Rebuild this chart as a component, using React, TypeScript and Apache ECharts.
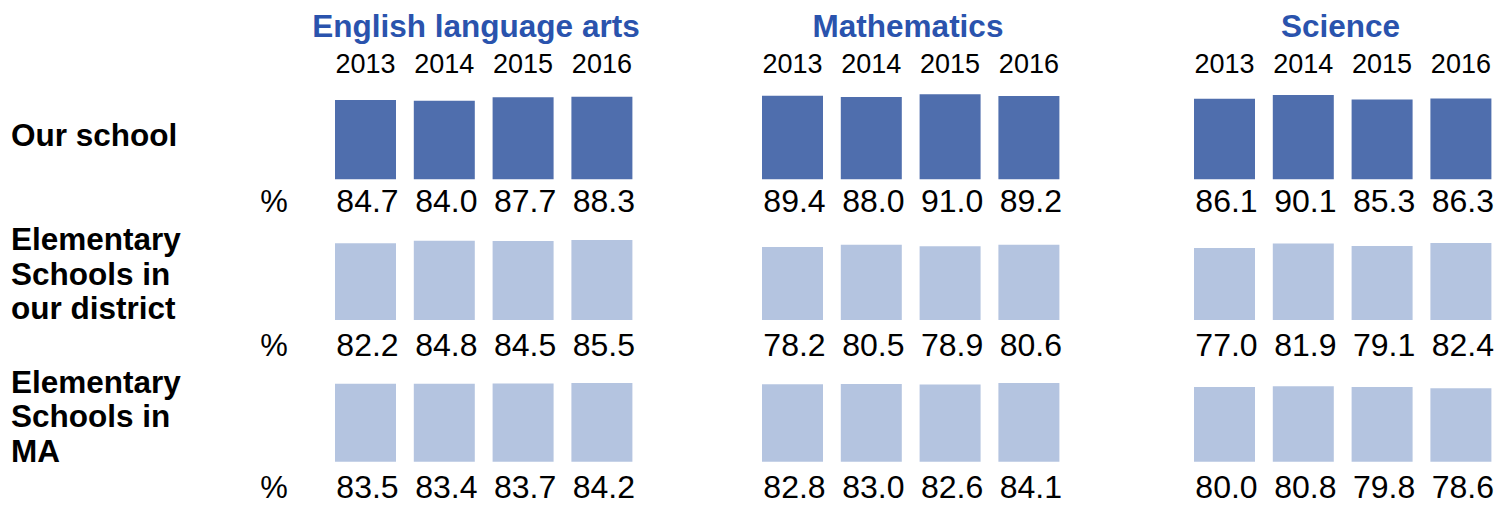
import React, { useEffect, useRef } from "react";
import * as echarts from "echarts";

const years = ["2013", "2014", "2015", "2016"];
const subjects = ["English language arts", "Mathematics", "Science"];
const groupLabels = [
  "Our school",
  "Elementary\nSchools in\nour district",
  "Elementary\nSchools in\nMA",
];

const elaSchool = [84.7, 84.0, 87.7, 88.3];
const elaDistrict = [82.2, 84.8, 84.5, 85.5];
const elaState = [83.5, 83.4, 83.7, 84.2];
const mathSchool = [89.4, 88.0, 91.0, 89.2];
const mathDistrict = [78.2, 80.5, 78.9, 80.6];
const mathState = [82.8, 83.0, 82.6, 84.1];
const sciSchool = [86.1, 90.1, 85.3, 86.3];
const sciDistrict = [77.0, 81.9, 79.1, 82.4];
const sciState = [80.0, 80.8, 79.8, 78.6];

const FONT = "'Liberation Sans', Arial, Helvetica, sans-serif";

export default function App() {
  const ref = useRef<HTMLDivElement>(null);
  useEffect(() => {
    document.body.style.margin = "0";
    const chart = echarts.init(ref.current!, undefined, { renderer: "svg" });
    const table = [
      [elaSchool, elaDistrict, elaState],
      [mathSchool, mathDistrict, mathState],
      [sciSchool, sciDistrict, sciState],
    ];
    const lefts = [326.1, 753.1, 1185.1];
    const bottoms = [179.3, 320, 461.7];
    const gridW = 315.2;
    const gridH = 93.5;
    const labelDist = [6, 9, 9];
    const grids: any[] = [];
    const xAxes: any[] = [];
    const yAxes: any[] = [];
    const series: any[] = [];
    let gi = 0;
    for (let s = 0; s < 3; s++) {
      for (let r = 0; r < 3; r++) {
        grids.push({
          left: lefts[s],
          top: bottoms[r] - gridH,
          width: gridW,
          height: gridH,
          containLabel: false,
        });
        xAxes.push({
          type: "category",
          gridIndex: gi,
          data: years,
          position: "top",
          show: r === 0,
          axisLine: { show: false },
          axisTick: { show: false },
          axisLabel: {
            show: r === 0,
            fontSize: 27,
            color: "#000",
            fontFamily: FONT,
            margin: 8,
            interval: 0,
          },
        });
        yAxes.push({
          type: "value",
          gridIndex: gi,
          min: 0,
          max: 100,
          show: false,
          splitLine: { show: false },
        });
        series.push({
          type: "bar",
          xAxisIndex: gi,
          yAxisIndex: gi,
          data: table[s][r],
          barWidth: 61,
          itemStyle: { color: r === 0 ? "#4F6EAD" : "#B4C4E0" },
          label: {
            show: true,
            position: "bottom",
            distance: labelDist[r],
            offset: [2, 0],
            fontSize: 32,
            color: "#000",
            fontFamily: FONT,
            formatter: (p: any) => Number(p.value).toFixed(1),
          },
        });
        gi++;
      }
    }
    const titleCenters = [476, 908, 1340.5];
    const graphics: any[] = [];
    subjects.forEach((t, i) => {
      graphics.push({
        type: "text",
        x: titleCenters[i],
        y: 26,
        style: {
          text: t,
          fill: "#2A53AD",
          font: `bold 31.5px ${FONT}`,
          textAlign: "center",
          textVerticalAlign: "middle",
        },
      });
    });
    const labelCenters = [135, 273.5, 416];
    groupLabels.forEach((t, i) => {
      graphics.push({
        type: "text",
        x: 11,
        y: labelCenters[i],
        style: {
          text: t,
          fill: "#000",
          font: `bold 31.5px ${FONT}`,
          lineHeight: 34.5,
          textAlign: "left",
          textVerticalAlign: "middle",
        },
      });
    });
    const pctCenters = [201, 345, 487.5];
    pctCenters.forEach((y) => {
      graphics.push({
        type: "text",
        x: 274,
        y,
        style: {
          text: "%",
          fill: "#000",
          font: `31px ${FONT}`,
          textAlign: "center",
          textVerticalAlign: "middle",
        },
      });
    });
    chart.setOption({
      animation: false,
      grid: grids,
      xAxis: xAxes,
      yAxis: yAxes,
      series,
      graphic: graphics,
    });
    return () => chart.dispose();
  }, []);
  return <div ref={ref} style={{ width: 1507, height: 505 }} />;
}
